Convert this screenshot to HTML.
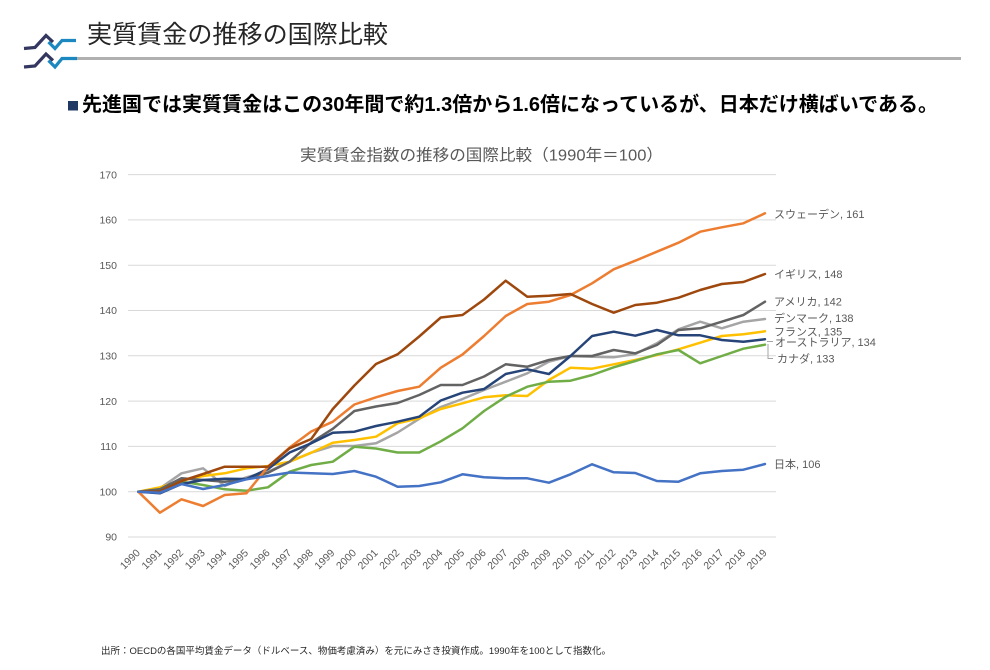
<!DOCTYPE html>
<html>
<head>
<meta charset="utf-8">
<style>
  html,body{margin:0;padding:0;background:#fff;}
  body{width:990px;height:670px;overflow:hidden;}
  svg{display:block;}
  .jp{font-family:"Liberation Sans","Noto Sans CJK JP",sans-serif;}
</style>
</head>
<body>
<svg width="990" height="670" viewBox="0 0 990 670" xmlns="http://www.w3.org/2000/svg">
  <rect x="0" y="0" width="990" height="670" fill="#ffffff"/>

  <!-- Logo -->
  <g fill="none" stroke-width="3.2" stroke-linejoin="miter" stroke-linecap="butt">
    <polyline points="24,48.5 35,47.5 46,35.5 53,42" stroke="#34375f"/>
    <polyline points="48.5,42 55,48.5 62,40.5 76,40.5" stroke="#1c88c0"/>
    <polyline points="24,67 35,66 46,54 53,60.5" stroke="#34375f"/>
    <polyline points="48.5,60.5 55,67 62,58.5 77,58.5" stroke="#1c88c0"/>
  </g>
  <!-- header rule -->
  <rect x="77" y="57" width="884" height="3" fill="#b0b0b0"/>

  <!-- Page title -->
  <text class="jp" x="87" y="43" font-size="25" fill="#262626" textLength="301" lengthAdjust="spacingAndGlyphs">実質賃金の推移の国際比較</text>

  <!-- Heading -->
  <rect x="68" y="101" width="10" height="9.5" fill="#1F3864"/>
  <text class="jp" x="82" y="111" font-size="20" font-weight="bold" fill="#000" textLength="856" lengthAdjust="spacingAndGlyphs">先進国では実質賃金はこの30年間で約1.3倍から1.6倍になっているが、日本だけ横ばいである。</text>

  <!-- Chart title -->
  <text class="jp" x="300" y="160.6" font-size="16" fill="#595959" textLength="363" lengthAdjust="spacingAndGlyphs">実質賃金指数の推移の国際比較（1990年＝100）</text>

  <!-- Gridlines -->
  <g stroke="#D9D9D9" stroke-width="1">
    <line x1="128" y1="174.6" x2="776" y2="174.6"/>
    <line x1="128" y1="219.9" x2="776" y2="219.9"/>
    <line x1="128" y1="265.2" x2="776" y2="265.2"/>
    <line x1="128" y1="310.5" x2="776" y2="310.5"/>
    <line x1="128" y1="355.8" x2="776" y2="355.8"/>
    <line x1="128" y1="401.1" x2="776" y2="401.1"/>
    <line x1="128" y1="446.4" x2="776" y2="446.4"/>
    <line x1="128" y1="491.7" x2="776" y2="491.7"/>
    <line x1="128" y1="537.0" x2="776" y2="537.0"/>
  </g>

  <!-- Y labels -->
  <g font-family="Liberation Sans, sans-serif" font-size="10.5" fill="#595959" text-anchor="end">
    <text x="117" y="178.3">170</text>
    <text x="117" y="223.6">160</text>
    <text x="117" y="268.9">150</text>
    <text x="117" y="314.2">140</text>
    <text x="117" y="359.5">130</text>
    <text x="117" y="404.8">120</text>
    <text x="117" y="450.1">110</text>
    <text x="117" y="495.4">100</text>
    <text x="117" y="540.7">90</text>
  </g>

  <!-- X labels -->
  <g font-family="Liberation Sans, sans-serif" font-size="10.5" fill="#595959" text-anchor="end">
    <text transform="translate(140.8,553.5) rotate(-45)">1990</text>
    <text transform="translate(162.4,553.5) rotate(-45)">1991</text>
    <text transform="translate(184.0,553.5) rotate(-45)">1992</text>
    <text transform="translate(205.6,553.5) rotate(-45)">1993</text>
    <text transform="translate(227.2,553.5) rotate(-45)">1994</text>
    <text transform="translate(248.9,553.5) rotate(-45)">1995</text>
    <text transform="translate(270.5,553.5) rotate(-45)">1996</text>
    <text transform="translate(292.1,553.5) rotate(-45)">1997</text>
    <text transform="translate(313.7,553.5) rotate(-45)">1998</text>
    <text transform="translate(335.3,553.5) rotate(-45)">1999</text>
    <text transform="translate(356.9,553.5) rotate(-45)">2000</text>
    <text transform="translate(378.5,553.5) rotate(-45)">2001</text>
    <text transform="translate(400.1,553.5) rotate(-45)">2002</text>
    <text transform="translate(421.7,553.5) rotate(-45)">2003</text>
    <text transform="translate(443.3,553.5) rotate(-45)">2004</text>
    <text transform="translate(465.0,553.5) rotate(-45)">2005</text>
    <text transform="translate(486.6,553.5) rotate(-45)">2006</text>
    <text transform="translate(508.2,553.5) rotate(-45)">2007</text>
    <text transform="translate(529.8,553.5) rotate(-45)">2008</text>
    <text transform="translate(551.4,553.5) rotate(-45)">2009</text>
    <text transform="translate(573.0,553.5) rotate(-45)">2010</text>
    <text transform="translate(594.6,553.5) rotate(-45)">2011</text>
    <text transform="translate(616.2,553.5) rotate(-45)">2012</text>
    <text transform="translate(637.8,553.5) rotate(-45)">2013</text>
    <text transform="translate(659.4,553.5) rotate(-45)">2014</text>
    <text transform="translate(681.0,553.5) rotate(-45)">2015</text>
    <text transform="translate(702.7,553.5) rotate(-45)">2016</text>
    <text transform="translate(724.3,553.5) rotate(-45)">2017</text>
    <text transform="translate(745.9,553.5) rotate(-45)">2018</text>
    <text transform="translate(767.5,553.5) rotate(-45)">2019</text>
  </g>

  <!-- Series -->
  <g fill="none" stroke-width="2.5" stroke-linejoin="round" stroke-linecap="round">
    <!-- Denmark -->
    <polyline stroke="#A5A5A5" points="138.3,491.7 159.9,488.3 181.5,473.3 203.1,468.3 224.7,486 246.4,477.3 268.0,471.7 289.6,461.7 311.2,452.7 332.8,446 354.4,446 376.0,443.3 397.6,432.5 419.2,418.8 440.8,407 462.5,399 484.1,390 505.7,381.7 527.3,373.3 548.9,361.7 570.5,356 592.1,356.7 613.7,357.3 635.3,354 656.9,343.3 678.5,329.3 700.2,321.7 721.8,328.3 743.4,321.7 765.0,319"/>
    <!-- France -->
    <polyline stroke="#FFC000" points="138.3,491.7 159.9,487.3 181.5,480.7 203.1,476 224.7,473.3 246.4,468.3 268.0,466 289.6,461.7 311.2,452.7 332.8,442.7 354.4,440 376.0,436.7 397.6,423.3 419.2,418.3 440.8,409 462.5,403.3 484.1,397.3 505.7,395.3 527.3,396 548.9,380 570.5,367.7 592.1,368.7 613.7,364.3 635.3,360 656.9,355 678.5,349.3 700.2,342.7 721.8,336 743.4,334.3 765.0,331.3"/>
    <!-- Canada -->
    <polyline stroke="#70AD47" points="138.3,491.7 159.9,489.3 181.5,481.7 203.1,485 224.7,489.3 246.4,490.7 268.0,487.3 289.6,471.7 311.2,465 332.8,461.7 354.4,446.7 376.0,448.5 397.6,452.5 419.2,452.5 440.8,441.3 462.5,428.3 484.1,411 505.7,396.7 527.3,386.7 548.9,381.7 570.5,380.7 592.1,375 613.7,367.3 635.3,361 656.9,354.3 678.5,350 700.2,363.3 721.8,356 743.4,348.7 765.0,344.7"/>
    <!-- USA -->
    <polyline stroke="#636363" points="138.3,491.7 159.9,489.3 181.5,478.3 203.1,480 224.7,481.7 246.4,479.3 268.0,472.7 289.6,461.7 311.2,442.5 332.8,428.8 354.4,411 376.0,406.5 397.6,403 419.2,395 440.8,385 462.5,385 484.1,376.5 505.7,364.3 527.3,366.7 548.9,360 570.5,356 592.1,356 613.7,350 635.3,353.3 656.9,345 678.5,330 700.2,328.3 721.8,321.7 743.4,315 765.0,301.7"/>
    <!-- Australia -->
    <polyline stroke="#264478" points="138.3,491.7 159.9,493.3 181.5,484 203.1,480 224.7,478.8 246.4,479 268.0,469 289.6,452.5 311.2,443.3 332.8,432.7 354.4,431.7 376.0,426 397.6,421.7 419.2,416.7 440.8,400.5 462.5,392.7 484.1,389 505.7,374 527.3,369.3 548.9,374 570.5,356 592.1,336 613.7,331.7 635.3,335.7 656.9,330 678.5,335.3 700.2,335.3 721.8,340 743.4,341.7 765.0,339.3"/>
    <!-- Sweden -->
    <polyline stroke="#ED7D31" points="138.3,491.7 159.9,512.7 181.5,499.3 203.1,506 224.7,495 246.4,493.3 268.0,466.7 289.6,447.5 311.2,431.5 332.8,421.7 354.4,404.5 376.0,397.3 397.6,391 419.2,386.7 440.8,367.7 462.5,354.5 484.1,336 505.7,316 527.3,304 548.9,301.7 570.5,295 592.1,283.3 613.7,269.3 635.3,260.7 656.9,251.7 678.5,242.7 700.2,231.7 721.8,227.3 743.4,223.3 765.0,213.3"/>
    <!-- UK -->
    <polyline stroke="#9E480E" points="138.3,491.7 159.9,491.5 181.5,481 203.1,474 224.7,466.7 246.4,466.7 268.0,466.7 289.6,448.3 311.2,439 332.8,409 354.4,385.5 376.0,364 397.6,354.3 419.2,336.5 440.8,317.5 462.5,315 484.1,299.5 505.7,280.7 527.3,296.7 548.9,295.7 570.5,294 592.1,304 613.7,312.7 635.3,305 656.9,302.7 678.5,297.7 700.2,290 721.8,284 743.4,282 765.0,274"/>
    <!-- Japan -->
    <polyline stroke="#4472C4" points="138.3,491.7 159.9,492.7 181.5,484 203.1,489 224.7,485 246.4,479.3 268.0,476 289.6,472.5 311.2,473.3 332.8,474 354.4,471 376.0,476.7 397.6,486.7 419.2,486 440.8,482.3 462.5,474.3 484.1,477.3 505.7,478.3 527.3,478.3 548.9,482.7 570.5,474.3 592.1,464.3 613.7,472.3 635.3,473 656.9,481 678.5,481.7 700.2,473.3 721.8,471 743.4,469.7 765.0,464"/>
  </g>

  <!-- leader lines -->
  <g stroke="#A6A6A6" stroke-width="1" fill="none">
    <line x1="767" y1="341.5" x2="773" y2="341.5"/>
    <polyline points="768,344 768,358.5 773,358.5"/>
  </g>

  <!-- Series labels -->
  <g class="jp" font-size="11" fill="#595959">
    <text x="774" y="218">スウェーデン, 161</text>
    <text x="774" y="278">イギリス, 148</text>
    <text x="774" y="305.7">アメリカ, 142</text>
    <text x="774" y="322">デンマーク, 138</text>
    <text x="774" y="335.3">フランス, 135</text>
    <text x="775" y="346">オーストラリア, 134</text>
    <text x="777" y="362.3">カナダ, 133</text>
    <text x="774" y="468">日本, 106</text>
  </g>

  <!-- Footer -->
  <text class="jp" x="101" y="654" font-size="9.5" fill="#262626" textLength="510" lengthAdjust="spacingAndGlyphs">出所：OECDの各国平均賃金データ（ドルベース、物価考慮済み）を元にみさき投資作成。1990年を100として指数化。</text>
</svg>
</body>
</html>
